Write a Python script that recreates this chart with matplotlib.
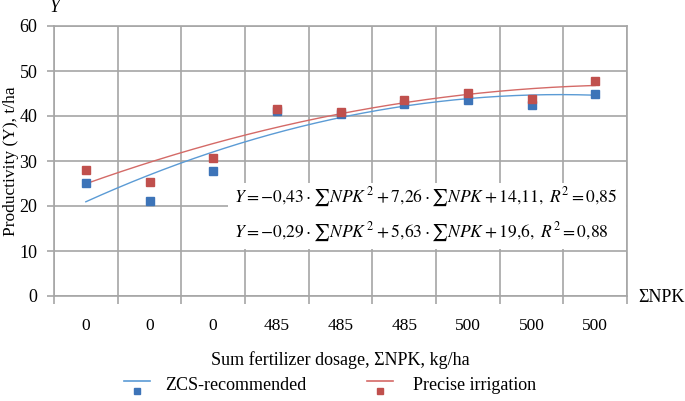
import numpy as np
import matplotlib
matplotlib.use("Agg")
import matplotlib.pyplot as plt
from matplotlib.lines import Line2D
from matplotlib.patches import Rectangle

plt.rcParams['font.family'] = ['Liberation Serif', 'DejaVu Serif']
plt.rcParams['mathtext.fontset'] = 'stix'

# Data
npk_labels = ["0", "0", "0", "485", "485", "485", "500", "500", "500"]
zcs_values = [25.1, 21.2, 27.8, 41.2, 40.5, 42.6, 43.5, 42.4, 45.0]
precise_values = [28.0, 25.3, 30.7, 41.5, 41.0, 43.6, 45.1, 43.8, 47.8]

# Trend line coefficients (as printed on the chart)
zcs_coef = [-0.43, 7.26, 14.11]
precise_coef = [-0.29, 5.63, 19.6]

blue_pt = '#3D74B8'
red_pt = '#C0504D'
blue_ln = '#5B9BD5'
red_ln = '#D46A67'
grid_c = '#A6A6A6'

x = np.arange(1, len(npk_labels) + 1)
xs = np.linspace(1, len(npk_labels), 200)

fig = plt.figure(figsize=(6.85, 4.01), dpi=100)
ax = fig.add_axes([54/685, 1 - 296/401, (627 - 54)/685, (296 - 26)/401])

ax.plot(xs, np.polyval(zcs_coef, xs), color=blue_ln, lw=1.0, zorder=3)
ax.plot(xs, np.polyval(precise_coef, xs), color=red_ln, lw=1.0, zorder=3)
ax.plot(x, zcs_values, 's', color=blue_pt, ms=6, zorder=4)
ax.plot(x, precise_values, 's', color=red_pt, ms=6, zorder=4)

ax.set_xlim(0.5, len(npk_labels) + 0.5)
ax.set_ylim(0, 60)
ax.set_yticks(range(0, 61, 10))
ax.set_xticks(x)
ax.set_xticklabels(npk_labels)
ax.set_xticks(np.arange(0.5, len(npk_labels) + 1), minor=True)
ax.tick_params(axis='x', which='major', length=0, pad=16, labelsize=12.5)
ax.tick_params(axis='x', which='minor', length=6, color=grid_c, width=1.2)
ax.tick_params(axis='y', length=5, color=grid_c, width=1.2, labelsize=13, pad=7)

ax.grid(True, which='minor', axis='x', color=grid_c, lw=1.2)
ax.grid(True, which='major', axis='y', color=grid_c, lw=1.2)
for s in ax.spines.values():
    s.set_color(grid_c)
    s.set_linewidth(1.2)

ax.set_ylabel("Productivity (Y), t/ha", fontsize=12.5)
ax.yaxis.set_label_coords(-35/573, 0.5)
ax.set_xlabel("Sum fertilizer dosage, ΣNPK, kg/ha", fontsize=13, labelpad=12)

fig.text(50/685, 1 - 8/401, "Y", fontsize=13, style='italic', ha='left', va='center')
fig.text(638/685, 1 - 298/401, "ΣNPK", fontsize=13, ha='left', va='center')

# Equations box
ax.add_patch(Rectangle((0.304, 0.174), 0.694, 0.245, transform=ax.transAxes,
                       facecolor='white', edgecolor='none', zorder=5))
ax.text(0.314, 0.367,
        "$Y=-0{,}43\\cdot\\sum NPK^{\\,2}+7{,}26\\cdot\\sum NPK+14{,}11,\\ R^2=0{,}85$",
        transform=ax.transAxes, fontsize=12.6, ha='left', va='center', zorder=6)
ax.text(0.314, 0.237,
        "$Y=-0{,}29\\cdot\\sum NPK^{\\,2}+5{,}63\\cdot\\sum NPK+19{,}6,\\ R^2=0{,}88$",
        transform=ax.transAxes, fontsize=12.6, ha='left', va='center', zorder=6)

# Legend: short line above a small marker
for lx, lc, pc, label, tx in [(137, blue_ln, blue_pt, "ZCS-recommended", 165),
                              (380, red_ln, red_pt, "Precise irrigation", 413)]:
    fig.add_artist(Line2D([(lx - 13)/685, (lx + 13)/685], [1 - 381/401, 1 - 381/401],
                          color=lc, lw=1.2, transform=fig.transFigure))
    fig.add_artist(Line2D([lx/685], [1 - 391/401], marker='s', ms=5, color=pc,
                          linestyle='none', transform=fig.transFigure))
    fig.text(tx/685, 1 - 385/401, label, fontsize=13, ha='left', va='center')

fig.savefig("out.png", dpi=100)
